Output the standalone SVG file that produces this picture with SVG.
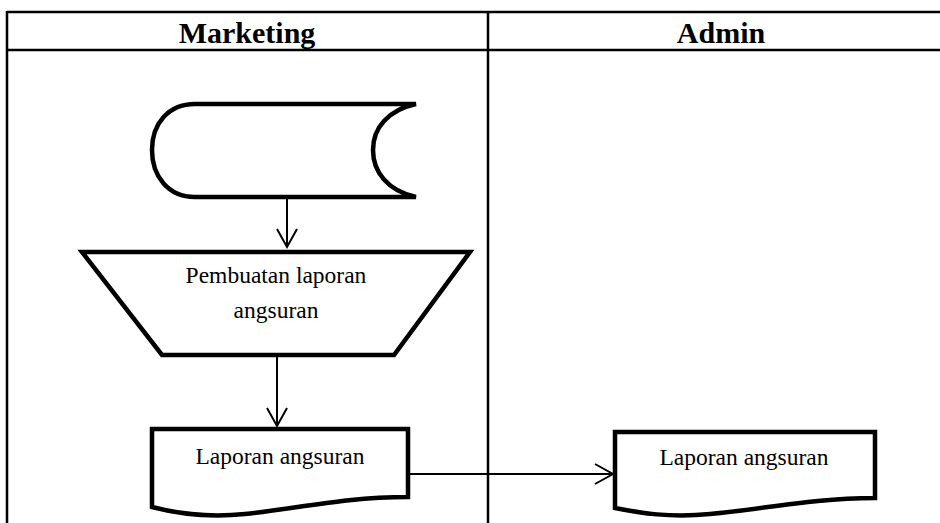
<svg xmlns="http://www.w3.org/2000/svg" width="940" height="523" viewBox="0 0 940 523">
<style>
.grid{stroke:#000;stroke-width:2.5;fill:none}
.shape{fill:#fff;stroke:#000;stroke-width:4.5;stroke-linejoin:miter}
.conn{stroke:#000;stroke-width:2;fill:none}
.hdr{font-family:"Liberation Serif","Times New Roman",serif;font-weight:bold;font-size:30px;fill:#000;text-anchor:middle}
.lbl{font-family:"Liberation Serif","Times New Roman",serif;font-size:23.5px;fill:#000;text-anchor:middle}
</style>
<defs>
<marker id="arr" markerUnits="userSpaceOnUse" markerWidth="22" markerHeight="24" viewBox="-19 -12 22 24" refX="0" refY="0" orient="auto">
<path d="M-18,-10 L0,0 L-18,10" fill="none" stroke="#000" stroke-width="2"/>
</marker>
</defs>
<rect width="940" height="523" fill="#fff"/>
<g id="table">
<line class="grid" x1="7" y1="12" x2="940" y2="12"/>
<line class="grid" x1="7" y1="50" x2="940" y2="50"/>
<line class="grid" x1="7" y1="11" x2="7" y2="523"/>
<line class="grid" x1="488" y1="12" x2="488" y2="523"/>
<text class="hdr" x="247" y="43">Marketing</text>
<text class="hdr" x="721" y="43">Admin</text>
</g>
<g id="stored-data">
<path class="shape" d="M195,104 H416 C388,110 373,128 373,150 C373,172 388,191 416,197 H195 C168,197 152,176 152,150 C152,124 168,104 195,104 Z"/>
</g>
<g id="manual-operation">
<path class="shape" d="M82,252 H470 L394,355 H162 Z"/>
<text class="lbl" x="276" y="283">Pembuatan laporan</text>
<text class="lbl" x="276" y="318">angsuran</text>
</g>
<g id="doc-marketing">
<path class="shape" d="M152,429 H408 V497 C345,497 300,508 245,514 C205,518 175,513 152,507 Z"/>
<text class="lbl" x="280" y="464">Laporan angsuran</text>
</g>
<g id="doc-admin">
<path class="shape" d="M615,432 H875 V498 C812,498 765,509 710,514 C670,518 640,513 615,508 Z"/>
<text class="lbl" x="744" y="465">Laporan angsuran</text>
</g>
<g id="connectors">
<line class="conn" x1="287" y1="199" x2="287" y2="247" marker-end="url(#arr)"/>
<line class="conn" x1="277" y1="357" x2="277" y2="426" marker-end="url(#arr)"/>
<line class="conn" x1="410" y1="474" x2="613" y2="474" marker-end="url(#arr)"/>
</g>
</svg>
